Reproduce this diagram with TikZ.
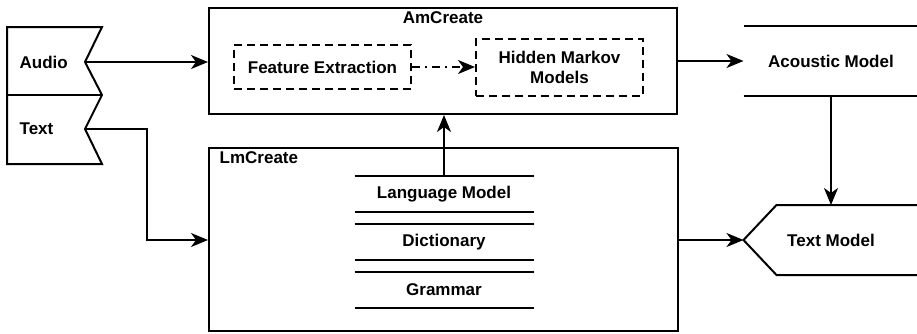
\documentclass[tikz,border=0pt]{standalone}
\usepackage{fontspec}
\setmainfont{Liberation Sans}
\usetikzlibrary{arrows.meta}

\tikzset{
    block/.style = {draw, inner sep=0pt},
    subblock/.style = {draw, dashed, dash pattern=on 4pt off 2.5pt, inner sep=0pt, align=center},
    store/.style = {inner sep=0pt, minimum width=88.5pt, minimum height=17pt},
    model/.style = {inner sep=0pt, minimum width=86.5pt, minimum height=34pt}
}

\begin{document}
\begin{tikzpicture}[x=0.5pt, y=-0.5pt, line width=1pt,
    font=\fontsize{8.5}{10}\selectfont\bfseries,
    >={Stealth[length=8.5pt, width=7pt, inset=2.5pt]}]
    \useasboundingbox (0, 0) rectangle (917, 333);

    % inputs
    \draw (7, 27) -- (102, 27) -- (85, 62) -- (102, 95) -- (85, 129) -- (102, 164) -- (7, 164) -- cycle;
    \draw (7, 95) -- (102, 95);
    \node[anchor=west] (audio) at (12, 62) {Audio};
    \node[anchor=west] (text) at (12, 129) {Text};
    \coordinate (audio out) at (85, 62);
    \coordinate (text out) at (85, 129);

    % acoustic model training
    \node[block, minimum width=234pt, minimum height=53pt] (am) at (443, 61) {};
    \node (amlabel) at (443, 18) {AmCreate};
    \node[subblock, minimum width=88.5pt, minimum height=22pt] (fe) at (322.5, 67) {Feature Extraction};
    \node[subblock, minimum width=83.5pt, minimum height=28.5pt] (hmm) at (559.5, 67.5) {Hidden Markov\\Models};
    \draw[->, dash pattern=on 4pt off 2.5pt on 1pt off 2.5pt] (fe.east) -- (fe.east -| hmm.west);

    % language model training
    \node[block, minimum width=234.5pt, minimum height=91.5pt] (lm) at (443.5, 239.5) {};
    \node[anchor=west] (lmlabel) at (212, 158) {LmCreate};
    \node[store] (lang) at (444, 194) {Language Model};
    \node[store] (dict) at (444, 242) {Dictionary};
    \node[store] (gram) at (444, 290) {Grammar};
    \foreach \n in {lang, dict, gram}
        \draw (\n.north west) -- (\n.north east) (\n.south west) -- (\n.south east);

    % outputs
    \node[model] (ac) at (831, 61) {Acoustic Model};
    \draw (ac.north west) -- (ac.north east) (ac.south west) -- (ac.south east);
    \node[model] (tm) at (831, 240) {Text Model};
    \draw (tm.north east) -- ([xshift=16.5pt]tm.north west) -- (tm.west) -- ([xshift=16.5pt]tm.south west) -- (tm.south east);

    % connections
    \draw[->] (audio out) -- (am.west |- audio out);
    \draw[->] (text out) -- ++(62, 0) |- (lm.west |- tm.west);
    \draw[->] (lang.north) -- (am.south -| lang.north);
    \draw[->] (am.east) -- (ac.west);
    \draw[->] (ac.south) -- (tm.north);
    \draw[->] (lm.east |- tm.west) -- (tm.west);
\end{tikzpicture}
\end{document}
